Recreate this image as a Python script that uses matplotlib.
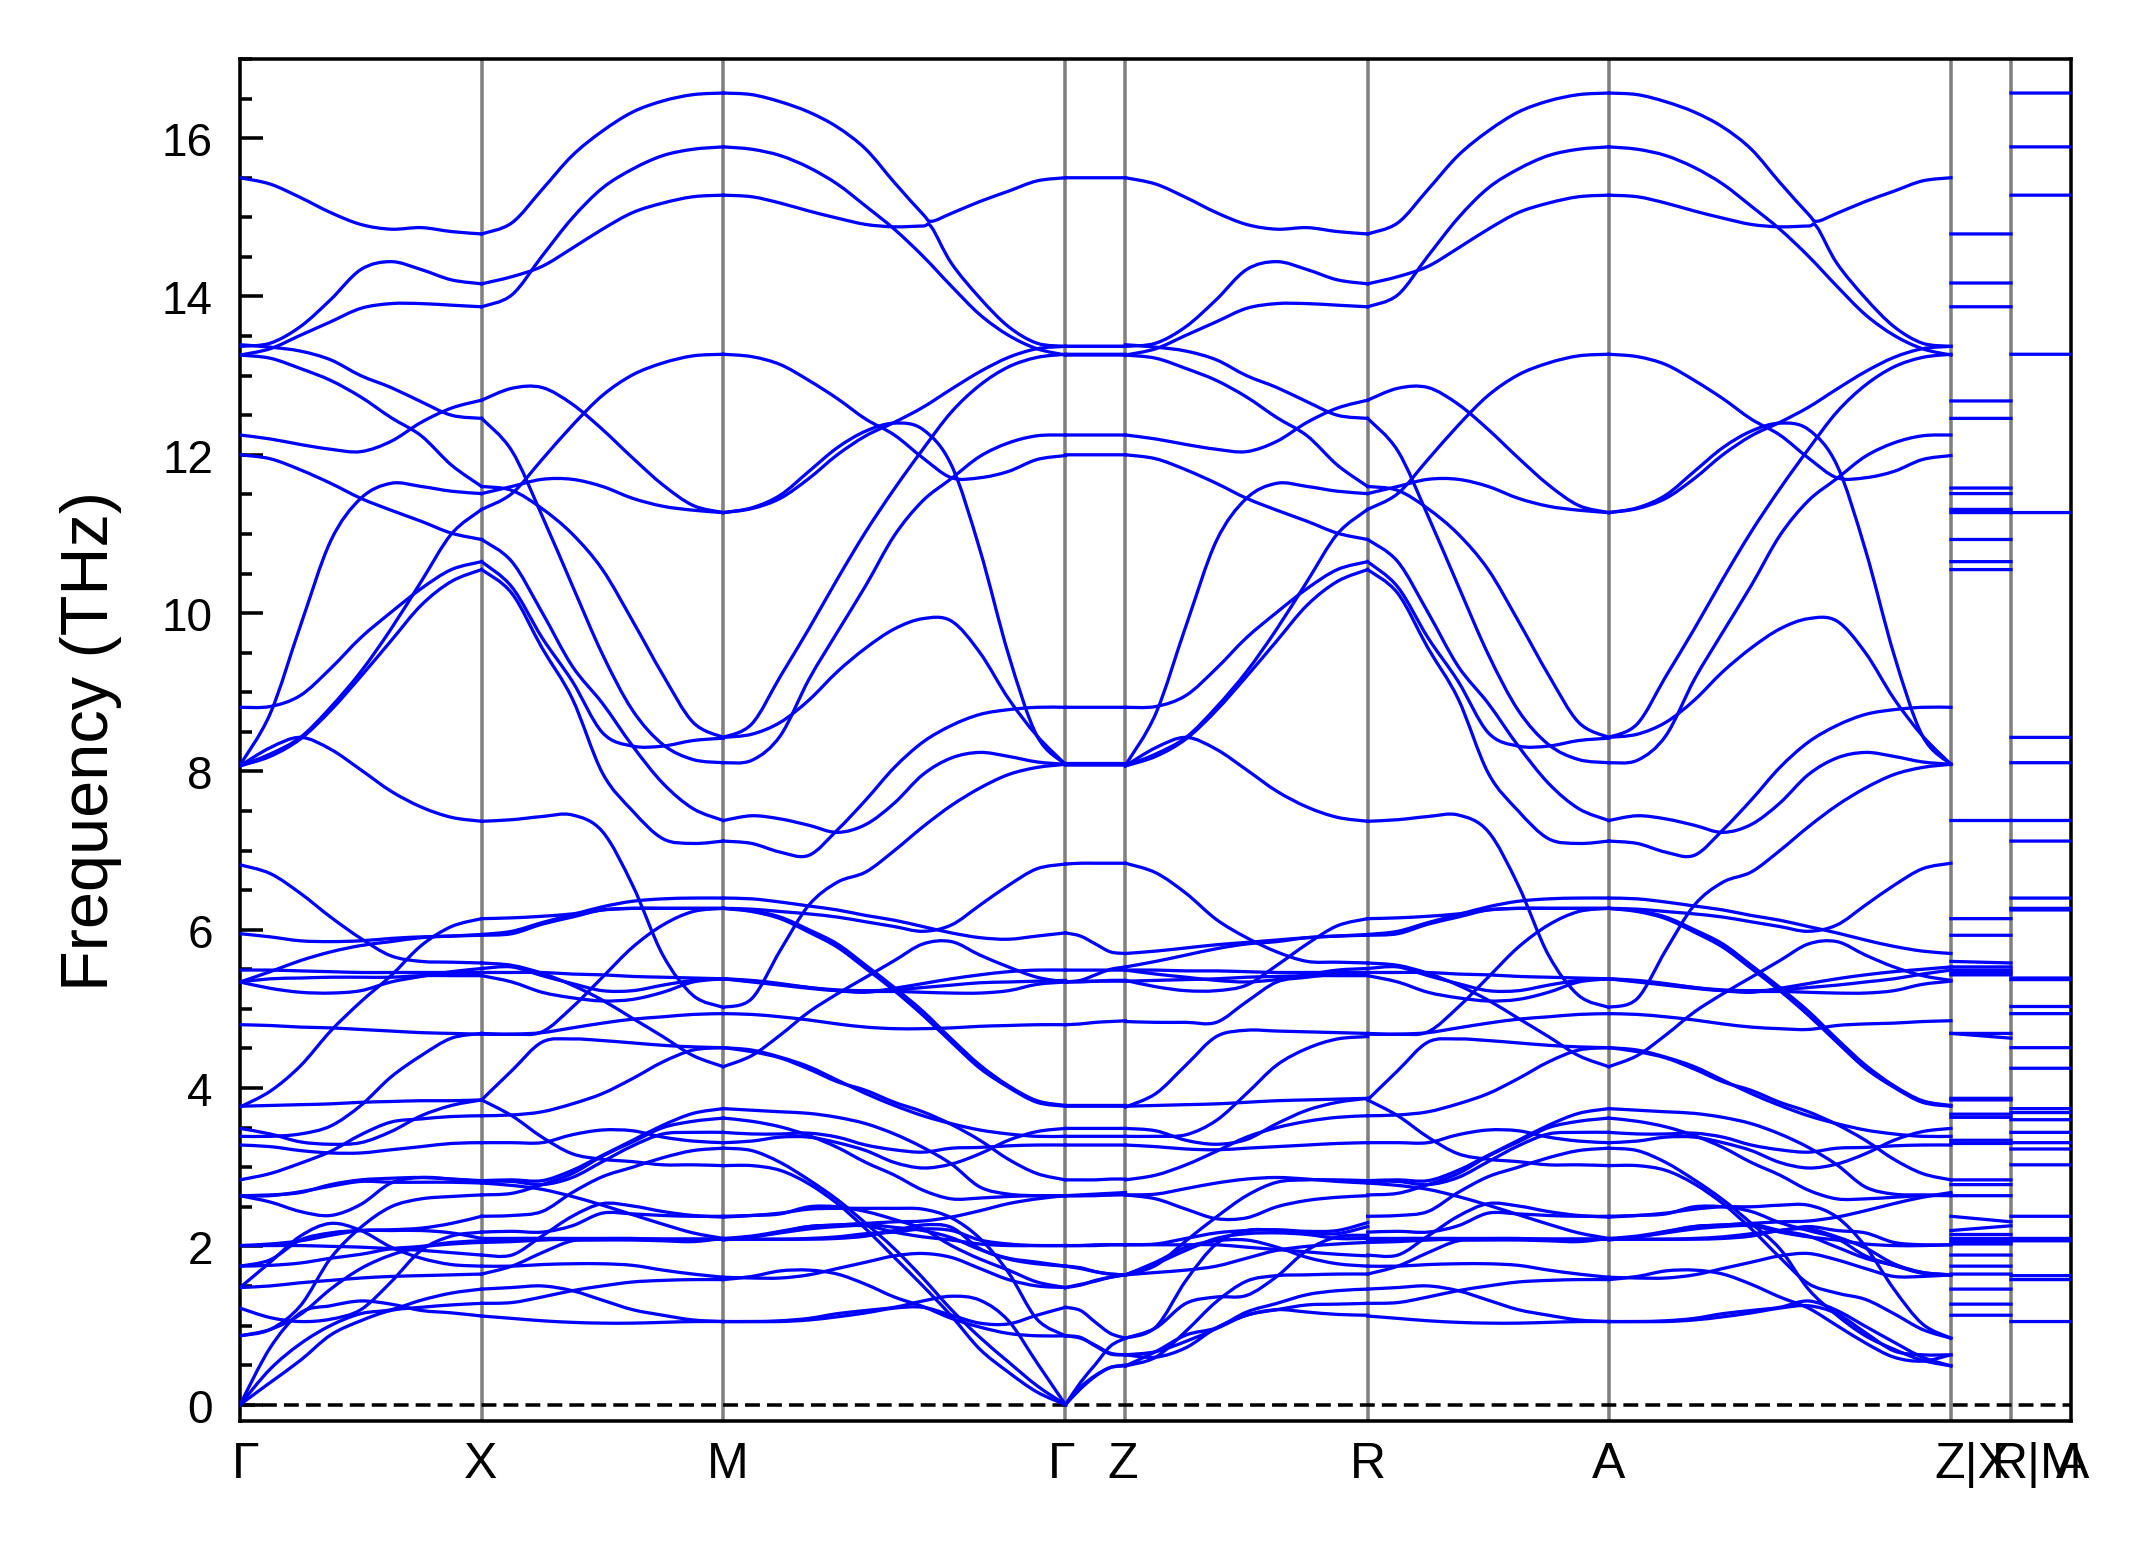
import matplotlib

matplotlib.use("Agg")
import matplotlib.pyplot as plt
import numpy as np
from matplotlib.patches import PathPatch
from matplotlib.path import Path
from matplotlib.ticker import MultipleLocator
from matplotlib.transforms import ScaledTranslation

plt.rcParams["font.family"] = ["Liberation Sans", "DejaVu Sans"]

TICK_LABELS = ["Γ", "X", "M", "Γ", "Z", "R", "A", "Z|X", "R|M", "A"]
LABEL_SHIFTS = [6, -1, 4, -4, -3, 0, 0, 22, 26, 2]
SEGMENTS = [241.5, 241.5, 342.0, 60.0, 242.0, 241.0, 342.0, 60.0, 60.0]
KINK_FRACTION = 0.608

# upper branches, the same on Gamma-X and Z-R
HIGH_GX = [
    [15.5, 15.42, 15.25, 15.06, 14.91, 14.85, 14.87, 14.82, 14.79],
    [13.26, 13.34, 13.51, 13.68, 13.85, 13.91, 13.91, 13.89, 13.87],
    [13.37, 13.41, 13.62, 13.96, 14.34, 14.44, 14.34, 14.21, 14.16],
    [13.26, 13.22, 13.09, 12.94, 12.73, 12.47, 12.24, 11.87, 11.6],
    [13.39, 13.36, 13.31, 13.2, 13.0, 12.85, 12.67, 12.5, 12.46],
    [12.25, 12.2, 12.13, 12.07, 12.04, 12.17, 12.41, 12.59, 12.69],
    [12.0, 11.95, 11.81, 11.64, 11.45, 11.3, 11.16, 11.01, 10.93],
    [8.81, 8.82, 8.96, 9.3, 9.69, 10.01, 10.31, 10.55, 10.65],
    [8.07, 8.19, 8.41, 8.77, 9.2, 9.65, 10.1, 10.4, 10.55],
    [8.07, 8.22, 8.43, 8.81, 9.26, 9.8, 10.4, 11.0, 11.31],
    [8.08, 8.73, 9.84, 10.91, 11.45, 11.64, 11.6, 11.54, 11.51],
    [8.07, 8.3, 8.43, 8.28, 8.02, 7.75, 7.55, 7.42, 7.37],
]

HIGH_XM = [
    [14.79, 14.93, 15.35, 15.78, 16.09, 16.33, 16.47, 16.55, 16.57],
    [13.87, 14.02, 14.51, 14.99, 15.37, 15.61, 15.78, 15.86, 15.89],
    [14.16, 14.25, 14.38, 14.61, 14.85, 15.06, 15.18, 15.26, 15.28],
    [11.6, 11.55, 11.32, 11.0, 10.55, 9.9, 9.22, 8.62, 8.43],
    [12.46, 12.05, 11.23, 10.35, 9.48, 8.77, 8.34, 8.15, 8.11],
    [12.69, 12.84, 12.85, 12.64, 12.32, 11.96, 11.62, 11.36, 11.27],
    [10.93, 10.65, 10.01, 9.33, 8.86, 8.32, 7.85, 7.53, 7.38],
    [10.65, 10.33, 9.69, 9.14, 8.49, 8.32, 8.32, 8.39, 8.42],
    [10.55, 10.25, 9.56, 8.92, 7.98, 7.5, 7.15, 7.09, 7.12],
    [11.31, 11.51, 11.94, 12.37, 12.75, 13.01, 13.16, 13.25, 13.27],
    [11.51, 11.6, 11.69, 11.69, 11.6, 11.45, 11.35, 11.3, 11.27],
    [7.37, 7.39, 7.43, 7.45, 7.24, 6.56, 5.68, 5.17, 5.02],
]

# the first two rows carry one more point, at the kink near 0.6 of the way
HIGH_MG = [
    [16.57, 16.55, 16.46, 16.33, 16.14, 15.86, 15.44, 15.04, 14.95, 15.05, 15.2, 15.33, 15.46, 15.5],
    [15.28, 15.26, 15.18, 15.08, 14.99, 14.91, 14.88, 14.89, 14.88, 14.42, 13.98, 13.62, 13.41, 13.37],
    [15.89, 15.86, 15.78, 15.63, 15.42, 15.14, 14.85, 14.51, 14.13, 13.77, 13.51, 13.34, 13.26],
    [13.27, 13.24, 13.14, 12.94, 12.71, 12.45, 12.25, 11.96, 11.71, 11.71, 11.79, 11.94, 11.99],
    [11.27, 11.33, 11.49, 11.79, 12.09, 12.3, 12.4, 12.32, 11.87, 10.8, 9.48, 8.45, 8.09],
    [11.27, 11.32, 11.45, 11.7, 12.0, 12.24, 12.41, 12.6, 12.83, 13.05, 13.23, 13.34, 13.37],
    [8.43, 8.6, 9.2, 9.8, 10.43, 11.03, 11.57, 12.07, 12.54, 12.88, 13.11, 13.23, 13.27],
    [8.11, 8.14, 8.45, 9.16, 9.76, 10.35, 10.98, 11.42, 11.7, 11.98, 12.15, 12.24, 12.25],
    [8.43, 8.47, 8.62, 8.9, 9.26, 9.56, 9.8, 9.93, 9.9, 9.5, 8.92, 8.45, 8.09],
    [7.38, 7.44, 7.4, 7.32, 7.23, 7.33, 7.6, 7.96, 8.17, 8.24, 8.19, 8.12, 8.09],
    [7.12, 7.09, 6.98, 6.94, 7.26, 7.64, 8.05, 8.37, 8.58, 8.72, 8.78, 8.81, 8.81],
    [5.02, 5.13, 5.74, 6.31, 6.6, 6.73, 7.0, 7.3, 7.57, 7.79, 7.96, 8.05, 8.09],
]

LOW_GX = [
    [6.82, 6.71, 6.46, 6.16, 5.89, 5.67, 5.6, 5.59, 5.58],
    [5.95, 5.91, 5.86, 5.85, 5.86, 5.89, 5.91, 5.92, 5.93],
    [5.49, 5.49, 5.48, 5.47, 5.46, 5.46, 5.46, 5.46, 5.46],
    [5.34, 5.47, 5.61, 5.72, 5.8, 5.85, 5.9, 5.92, 5.94],
    [5.34, 5.26, 5.21, 5.2, 5.23, 5.34, 5.41, 5.47, 5.51],
    [5.34, 5.38, 5.39, 5.4, 5.4, 5.4, 5.42, 5.42, 5.42],
    [4.8, 4.79, 4.77, 4.76, 4.74, 4.72, 4.7, 4.69, 4.68],
    [3.76, 3.96, 4.28, 4.72, 5.09, 5.42, 5.8, 6.04, 6.14],
    [3.39, 3.39, 3.42, 3.52, 3.78, 4.14, 4.41, 4.63, 4.69],
    [3.77, 3.78, 3.79, 3.8, 3.82, 3.83, 3.84, 3.84, 3.85],
    [3.49, 3.42, 3.32, 3.29, 3.31, 3.45, 3.65, 3.78, 3.85],
    [3.28, 3.26, 3.21, 3.18, 3.18, 3.22, 3.26, 3.3, 3.31],
    [2.84, 2.92, 3.05, 3.2, 3.41, 3.57, 3.61, 3.64, 3.65],
    [2.64, 2.64, 2.69, 2.76, 2.82, 2.81, 2.81, 2.81, 2.8],
    [2.64, 2.65, 2.68, 2.78, 2.84, 2.86, 2.87, 2.85, 2.83],
    [2.64, 2.56, 2.44, 2.39, 2.53, 2.8, 2.87, 2.85, 2.82],
    [2.01, 2.03, 2.07, 2.14, 2.2, 2.21, 2.23, 2.29, 2.38],
    [2.01, 2.01, 2.01, 2.0, 1.99, 1.97, 1.95, 1.92, 1.89],
    [1.48, 1.8, 2.13, 2.29, 2.2, 1.99, 1.85, 1.77, 1.75],
    [1.75, 1.83, 2.08, 2.17, 2.2, 2.2, 2.2, 2.17, 2.1],
    [1.75, 1.76, 1.79, 1.85, 1.9, 1.97, 2.0, 2.05, 2.07],
    [1.48, 1.5, 1.54, 1.57, 1.6, 1.62, 1.63, 1.64, 1.65],
    [0.87, 0.95, 1.25, 1.85, 2.24, 2.5, 2.6, 2.63, 2.65],
    [0.0, 0.72, 1.16, 1.25, 1.31, 1.27, 1.19, 1.16, 1.12],
    [1.22, 1.1, 1.05, 1.08, 1.2, 1.55, 1.95, 2.13, 2.18],
    [0.87, 0.95, 1.14, 1.46, 1.72, 1.89, 1.99, 2.03, 2.05],
    [0.0, 0.45, 0.77, 1.0, 1.15, 1.2, 1.32, 1.41, 1.46],
    [0.0, 0.28, 0.56, 0.88, 1.06, 1.19, 1.23, 1.26, 1.28],
]

LOW_XM = [
    [5.58, 5.55, 5.45, 5.3, 5.11, 4.88, 4.65, 4.41, 4.27],
    [5.93, 5.95, 6.07, 6.16, 6.25, 6.27, 6.27, 6.27, 6.27],
    [5.46, 5.46, 5.46, 5.44, 5.43, 5.41, 5.4, 5.39, 5.38],
    [5.94, 5.98, 6.09, 6.19, 6.29, 6.36, 6.39, 6.4, 6.4],
    [5.51, 5.53, 5.42, 5.32, 5.23, 5.23, 5.3, 5.36, 5.38],
    [5.42, 5.34, 5.21, 5.14, 5.1, 5.12, 5.21, 5.34, 5.38],
    [4.68, 4.68, 4.7, 4.76, 4.82, 4.87, 4.9, 4.93, 4.94],
    [6.14, 6.15, 6.17, 6.2, 6.25, 6.27, 6.27, 6.27, 6.27],
    [4.69, 4.68, 4.71, 5.02, 5.4, 5.78, 6.06, 6.23, 6.27],
    [3.85, 4.22, 4.58, 4.62, 4.6, 4.57, 4.54, 4.52, 4.51],
    [3.85, 3.65, 3.38, 3.17, 3.1, 3.07, 3.03, 3.03, 3.02],
    [3.31, 3.31, 3.31, 3.41, 3.47, 3.46, 3.38, 3.33, 3.31],
    [3.65, 3.66, 3.7, 3.8, 3.93, 4.12, 4.33, 4.48, 4.51],
    [2.8, 2.77, 2.72, 2.63, 2.52, 2.4, 2.28, 2.17, 2.1],
    [2.83, 2.84, 2.83, 2.96, 3.15, 3.34, 3.53, 3.68, 3.74],
    [2.82, 2.82, 2.78, 2.87, 3.07, 3.27, 3.42, 3.44, 3.44],
    [2.38, 2.39, 2.44, 2.68, 2.88, 3.0, 3.12, 3.21, 3.24],
    [1.89, 1.89, 2.13, 2.38, 2.54, 2.51, 2.44, 2.39, 2.37],
    [1.75, 1.75, 1.77, 1.78, 1.78, 1.76, 1.7, 1.65, 1.61],
    [2.1, 2.1, 2.1, 2.08, 2.08, 2.08, 2.07, 2.06, 2.1],
    [2.07, 2.09, 2.1, 2.1, 2.1, 2.1, 2.09, 2.09, 2.09],
    [1.65, 1.75, 1.92, 2.07, 2.09, 2.09, 2.09, 2.09, 2.09],
    [2.65, 2.67, 2.78, 2.92, 3.14, 3.32, 3.5, 3.58, 3.62],
    [1.12, 1.09, 1.06, 1.04, 1.03, 1.03, 1.04, 1.05, 1.05],
    [2.18, 2.19, 2.18, 2.26, 2.42, 2.41, 2.39, 2.38, 2.38],
    [2.05, 2.06, 2.08, 2.09, 2.09, 2.09, 2.09, 2.09, 2.09],
    [1.46, 1.48, 1.5, 1.44, 1.32, 1.2, 1.13, 1.07, 1.05],
    [1.28, 1.29, 1.36, 1.44, 1.5, 1.55, 1.57, 1.58, 1.58],
]

LOW_MG = [
    [4.27, 4.41, 4.67, 4.96, 5.19, 5.4, 5.61, 5.82, 5.85, 5.68, 5.53, 5.4, 5.34],
    [6.27, 6.26, 6.23, 6.2, 6.16, 6.1, 6.04, 5.98, 6.06, 6.31, 6.56, 6.77, 6.83],
    [6.4, 6.39, 6.35, 6.3, 6.25, 6.18, 6.12, 6.04, 5.96, 5.9, 5.88, 5.92, 5.96],
    [5.38, 5.36, 5.32, 5.27, 5.23, 5.21, 5.26, 5.32, 5.38, 5.43, 5.47, 5.49, 5.49],
    [5.38, 5.35, 5.31, 5.27, 5.24, 5.23, 5.24, 5.27, 5.3, 5.33, 5.34, 5.35, 5.36],
    [5.38, 5.34, 5.3, 5.26, 5.23, 5.22, 5.22, 5.21, 5.2, 5.2, 5.23, 5.31, 5.34],
    [4.94, 4.93, 4.9, 4.86, 4.81, 4.77, 4.75, 4.75, 4.76, 4.78, 4.79, 4.8, 4.8],
    [6.27, 6.23, 6.14, 5.97, 5.78, 5.51, 5.23, 4.92, 4.58, 4.25, 4.01, 3.82, 3.77],
    [6.27, 6.24, 6.16, 6.0, 5.82, 5.55, 5.27, 4.97, 4.62, 4.29, 4.03, 3.84, 3.78],
    [4.51, 4.48, 4.39, 4.27, 4.1, 3.93, 3.78, 3.65, 3.55, 3.47, 3.42, 3.39, 3.39],
    [4.51, 4.46, 4.38, 4.24, 4.08, 3.97, 3.82, 3.7, 3.54, 3.34, 3.1, 2.92, 2.84],
    [3.31, 3.33, 3.38, 3.38, 3.31, 3.21, 3.06, 2.99, 3.04, 3.17, 3.34, 3.45, 3.49],
    [3.44, 3.42, 3.42, 3.43, 3.38, 3.28, 3.22, 3.19, 3.24, 3.25, 3.27, 3.28, 3.28],
    [3.74, 3.72, 3.7, 3.68, 3.63, 3.55, 3.42, 3.25, 3.04, 2.75, 2.66, 2.64, 2.64],
    [3.62, 3.58, 3.51, 3.4, 3.25, 3.06, 2.9, 2.71, 2.6, 2.61, 2.63, 2.64, 2.64],
    [2.1, 2.13, 2.19, 2.25, 2.27, 2.29, 2.31, 2.32, 2.37, 2.45, 2.54, 2.6, 2.64],
    [3.02, 3.02, 2.96, 2.79, 2.54, 2.22, 1.86, 1.5, 1.12, 0.7, 0.41, 0.16, 0.0],
    [3.24, 3.21, 3.06, 2.84, 2.59, 2.29, 1.97, 1.6, 1.2, 0.85, 0.54, 0.24, 0.0],
    [1.05, 1.05, 1.06, 1.09, 1.15, 1.19, 1.23, 1.31, 1.37, 1.32, 1.06, 0.53, 0.0],
    [1.05, 1.05, 1.05, 1.07, 1.11, 1.16, 1.22, 1.23, 1.13, 1.03, 1.02, 1.13, 1.23],
    [1.58, 1.62, 1.69, 1.7, 1.65, 1.52, 1.36, 1.24, 1.09, 0.98, 0.9, 0.87, 0.87],
    [2.37, 2.39, 2.42, 2.47, 2.48, 2.48, 2.48, 2.47, 2.36, 2.1, 1.67, 1.08, 0.87],
    [1.61, 1.6, 1.6, 1.64, 1.72, 1.8, 1.88, 1.91, 1.86, 1.72, 1.58, 1.5, 1.48],
    [2.38, 2.39, 2.41, 2.5, 2.5, 2.44, 2.34, 2.22, 2.01, 1.84, 1.7, 1.55, 1.48],
    [2.09, 2.12, 2.18, 2.25, 2.27, 2.28, 2.24, 2.2, 2.11, 1.96, 1.85, 1.8, 1.75],
    [2.09, 2.09, 2.09, 2.09, 2.1, 2.13, 2.2, 2.27, 2.24, 1.97, 1.84, 1.78, 1.75],
    [2.09, 2.09, 2.09, 2.1, 2.12, 2.16, 2.18, 2.22, 2.2, 2.08, 2.03, 2.01, 2.01],
    [2.08, 2.12, 2.17, 2.22, 2.25, 2.26, 2.18, 2.12, 2.08, 2.03, 2.01, 2.01, 2.01],
]

GZ = [
    [15.5, 15.5, 15.5, 15.5, 15.5],
    [13.37, 13.37, 13.37, 13.37, 13.37],
    [13.37, 13.37, 13.37, 13.37, 13.37],
    [13.27, 13.27, 13.27, 13.27, 13.27],
    [13.26, 13.26, 13.26, 13.26, 13.26],
    [12.25, 12.25, 12.25, 12.25, 12.25],
    [12.0, 12.0, 12.0, 12.0, 12.0],
    [8.81, 8.81, 8.81, 8.81, 8.81],
    [8.09, 8.09, 8.09, 8.09, 8.09],
    [8.08, 8.08, 8.08, 8.08, 8.08],
    [8.1, 8.1, 8.1, 8.1, 8.1],
    [6.83, 6.84, 6.84, 6.84, 6.84],
    [5.96, 5.92, 5.82, 5.72, 5.7],
    [5.49, 5.49, 5.49, 5.49, 5.49],
    [5.34, 5.36, 5.43, 5.5, 5.53],
    [5.34, 5.35, 5.35, 5.36, 5.36],
    [5.34, 5.34, 5.35, 5.35, 5.35],
    [4.8, 4.81, 4.83, 4.84, 4.85],
    [3.77, 3.77, 3.77, 3.77, 3.77],
    [3.78, 3.78, 3.78, 3.78, 3.78],
    [3.49, 3.49, 3.49, 3.49, 3.49],
    [3.39, 3.39, 3.39, 3.39, 3.39],
    [3.28, 3.28, 3.28, 3.28, 3.28],
    [2.84, 2.84, 2.84, 2.85, 2.85],
    [2.64, 2.64, 2.64, 2.65, 2.65],
    [2.64, 2.64, 2.65, 2.65, 2.66],
    [2.64, 2.65, 2.66, 2.67, 2.68],
    [2.01, 2.01, 2.01, 2.02, 2.02],
    [2.01, 2.01, 2.02, 2.02, 2.02],
    [1.75, 1.73, 1.68, 1.65, 1.64],
    [1.75, 1.72, 1.68, 1.65, 1.64],
    [1.48, 1.52, 1.56, 1.61, 1.64],
    [1.48, 1.51, 1.57, 1.61, 1.64],
    [1.23, 1.19, 1.04, 0.9, 0.84],
    [0.87, 0.85, 0.74, 0.64, 0.63],
    [0.87, 0.84, 0.75, 0.65, 0.63],
    [0.0, 0.28, 0.51, 0.74, 0.84],
    [0.0, 0.22, 0.37, 0.47, 0.49],
    [0.0, 0.2, 0.36, 0.47, 0.5],
]

LOW_ZR = [
    [6.84, 6.72, 6.46, 6.13, 5.9, 5.72, 5.6, 5.59, 5.58],
    [5.7, 5.73, 5.77, 5.81, 5.84, 5.87, 5.9, 5.92, 5.93],
    [5.53, 5.6, 5.68, 5.76, 5.82, 5.85, 5.9, 5.92, 5.94],
    [5.36, 5.28, 5.23, 5.23, 5.3, 5.55, 5.82, 6.05, 6.14],
    [5.49, 5.49, 5.48, 5.48, 5.47, 5.46, 5.46, 5.46, 5.46],
    [5.49, 5.44, 5.4, 5.36, 5.34, 5.37, 5.43, 5.49, 5.51],
    [5.35, 5.36, 5.37, 5.38, 5.4, 5.41, 5.42, 5.42, 5.42],
    [4.84, 4.83, 4.83, 4.83, 5.09, 5.34, 5.4, 5.44, 5.46],
    [3.76, 3.93, 4.29, 4.65, 4.73, 4.72, 4.71, 4.7, 4.69],
    [3.77, 3.78, 3.79, 3.8, 3.82, 3.84, 3.85, 3.86, 3.87],
    [3.49, 3.46, 3.34, 3.29, 3.35, 3.55, 3.72, 3.82, 3.87],
    [3.39, 3.39, 3.41, 3.59, 3.93, 4.29, 4.5, 4.62, 4.65],
    [3.28, 3.26, 3.23, 3.22, 3.24, 3.26, 3.28, 3.3, 3.31],
    [2.84, 2.9, 3.03, 3.2, 3.38, 3.5, 3.58, 3.63, 3.65],
    [2.65, 2.66, 2.73, 2.8, 2.85, 2.87, 2.85, 2.82, 2.8],
    [2.65, 2.6, 2.47, 2.35, 2.36, 2.5, 2.58, 2.62, 2.64],
    [2.02, 2.03, 2.1, 2.17, 2.2, 2.21, 2.19, 2.2, 2.3],
    [2.02, 2.02, 2.02, 2.02, 1.99, 1.96, 1.93, 1.9, 1.88],
    [1.64, 1.76, 2.07, 2.37, 2.64, 2.81, 2.84, 2.84, 2.83],
    [1.64, 1.78, 1.95, 2.1, 2.16, 2.17, 2.15, 2.1, 2.1],
    [1.64, 1.8, 1.99, 2.07, 2.08, 1.99, 1.86, 1.78, 1.75],
    [1.64, 1.67, 1.7, 1.75, 1.85, 1.95, 2.0, 2.03, 2.05],
    [0.84, 0.98, 1.57, 2.03, 2.2, 2.2, 2.17, 2.16, 2.25],
    [0.84, 0.97, 1.28, 1.36, 1.38, 1.62, 1.95, 2.12, 2.14],
    [0.63, 0.6, 0.72, 0.97, 1.13, 1.2, 1.17, 1.14, 1.13],
    [0.63, 0.67, 0.8, 0.96, 1.13, 1.2, 1.26, 1.27, 1.28],
    [0.49, 0.6, 0.93, 1.3, 1.56, 1.63, 1.64, 1.65, 1.65],
    [0.49, 0.67, 0.88, 0.97, 1.17, 1.28, 1.39, 1.44, 1.46],
]

LOW_AZ = [
    [4.27, 4.41, 4.67, 4.96, 5.19, 5.4, 5.61, 5.82, 5.85, 5.68, 5.53, 5.42, 5.36],
    [6.27, 6.26, 6.23, 6.2, 6.16, 6.1, 6.04, 5.98, 6.06, 6.31, 6.56, 6.77, 6.84],
    [6.4, 6.39, 6.35, 6.3, 6.25, 6.18, 6.12, 6.04, 5.96, 5.87, 5.79, 5.73, 5.7],
    [5.38, 5.36, 5.32, 5.27, 5.23, 5.21, 5.26, 5.32, 5.38, 5.43, 5.47, 5.5, 5.53],
    [5.38, 5.35, 5.31, 5.27, 5.24, 5.23, 5.24, 5.27, 5.3, 5.34, 5.38, 5.44, 5.49],
    [5.38, 5.34, 5.3, 5.26, 5.23, 5.22, 5.22, 5.21, 5.2, 5.2, 5.23, 5.31, 5.35],
    [4.94, 4.93, 4.9, 4.86, 4.81, 4.77, 4.75, 4.74, 4.79, 4.81, 4.82, 4.84, 4.85],
    [6.27, 6.23, 6.14, 5.97, 5.78, 5.51, 5.23, 4.92, 4.58, 4.25, 4.01, 3.82, 3.77],
    [6.27, 6.24, 6.16, 6.0, 5.82, 5.55, 5.27, 4.97, 4.62, 4.29, 4.03, 3.84, 3.78],
    [4.51, 4.48, 4.39, 4.27, 4.1, 3.93, 3.78, 3.65, 3.55, 3.47, 3.42, 3.39, 3.39],
    [4.51, 4.46, 4.38, 4.24, 4.08, 3.97, 3.82, 3.7, 3.54, 3.34, 3.1, 2.92, 2.84],
    [3.31, 3.33, 3.38, 3.38, 3.31, 3.21, 3.06, 2.99, 3.04, 3.17, 3.34, 3.45, 3.49],
    [3.44, 3.42, 3.42, 3.43, 3.38, 3.28, 3.22, 3.19, 3.24, 3.25, 3.27, 3.28, 3.28],
    [3.74, 3.72, 3.7, 3.68, 3.63, 3.55, 3.42, 3.25, 3.03, 2.75, 2.66, 2.65, 2.65],
    [3.62, 3.58, 3.51, 3.4, 3.25, 3.06, 2.9, 2.71, 2.6, 2.6, 2.62, 2.64, 2.64],
    [2.1, 2.13, 2.19, 2.25, 2.27, 2.29, 2.31, 2.32, 2.37, 2.45, 2.54, 2.62, 2.68],
    [3.02, 3.02, 2.96, 2.79, 2.54, 2.22, 1.86, 1.53, 1.41, 1.33, 1.15, 0.95, 0.84],
    [3.24, 3.21, 3.06, 2.84, 2.59, 2.29, 1.97, 1.46, 1.13, 0.87, 0.7, 0.56, 0.49],
    [1.05, 1.05, 1.06, 1.09, 1.15, 1.19, 1.23, 1.31, 1.19, 0.99, 0.79, 0.6, 0.49],
    [1.05, 1.05, 1.05, 1.07, 1.11, 1.16, 1.22, 1.25, 1.15, 0.91, 0.68, 0.63, 0.63],
    [1.58, 1.62, 1.69, 1.7, 1.65, 1.52, 1.36, 1.22, 1.0, 0.78, 0.6, 0.55, 0.63],
    [2.37, 2.39, 2.42, 2.47, 2.5, 2.5, 2.52, 2.52, 2.37, 2.0, 1.46, 1.02, 0.84],
    [1.61, 1.6, 1.6, 1.64, 1.72, 1.8, 1.88, 1.91, 1.83, 1.72, 1.62, 1.62, 1.64],
    [2.38, 2.39, 2.41, 2.5, 2.5, 2.44, 2.3, 2.2, 2.1, 1.88, 1.76, 1.66, 1.64],
    [2.09, 2.12, 2.18, 2.25, 2.27, 2.28, 2.2, 2.13, 1.99, 1.85, 1.76, 1.67, 1.64],
    [2.09, 2.09, 2.09, 2.09, 2.1, 2.13, 2.2, 2.22, 2.12, 1.98, 1.78, 1.67, 1.64],
    [2.09, 2.09, 2.09, 2.1, 2.12, 2.16, 2.2, 2.25, 2.2, 2.17, 2.05, 2.02, 2.02],
    [2.08, 2.12, 2.17, 2.22, 2.25, 2.26, 2.18, 2.12, 2.08, 2.03, 2.01, 2.01, 2.02],
]

# start and end of the almost flat bands on the last two short segments
XR = [
    [14.79, 14.79], [14.17, 14.17], [13.87, 13.87], [12.68, 12.68], [12.46, 12.46],
    [11.58, 11.58], [11.51, 11.51], [11.31, 11.31], [11.27, 11.27], [10.93, 10.93],
    [10.65, 10.65], [10.55, 10.55], [7.38, 7.38], [6.14, 6.14], [5.93, 5.93],
    [5.6, 5.58], [5.53, 5.53], [5.49, 5.49], [5.46, 5.46], [5.43, 5.43],
    [4.69, 4.69], [4.69, 4.63], [3.87, 3.87], [3.85, 3.85], [3.67, 3.67],
    [3.63, 3.63], [3.34, 3.34], [3.3, 3.3], [2.84, 2.84], [2.78, 2.78],
    [2.64, 2.64], [2.38, 2.31], [2.2, 2.26], [2.15, 2.15], [2.1, 2.1],
    [2.06, 2.06], [2.03, 2.03], [1.89, 1.89], [1.75, 1.75], [1.65, 1.65],
    [1.46, 1.46], [1.27, 1.27], [1.13, 1.13],
]

MA = [
    16.57, 15.89, 15.28, 13.27, 11.27, 8.43, 8.11, 7.38, 7.12, 6.4, 6.27, 6.25, 5.39, 5.37,
    5.03, 4.94, 4.51, 4.25, 3.74, 3.69, 3.6, 3.44, 3.31, 3.23, 3.03, 2.38, 2.1, 2.09,
    2.07, 1.63, 1.58, 1.05,
]

stops = np.concatenate([[0.0], np.cumsum(SEGMENTS)])

fig = plt.figure(figsize=(7.15, 5.1633), dpi=300)
ax = fig.add_axes([240 / 2145, 1 - 1421.5 / 1549, 1831 / 2145, 1361.5 / 1549])


def band_path(x, y):
    # cubic pieces through the read values, so the bands are not drawn as polygons
    points = np.column_stack([x, y])
    before = np.vstack([points[0], points[:-1]])
    after = np.vstack([points[1:], points[-1]])
    slopes = (after - before) / 6
    verts = [points[0]]
    codes = [Path.MOVETO]
    for i in range(len(points) - 1):
        verts += [points[i] + slopes[i], points[i + 1] - slopes[i + 1], points[i + 1]]
        codes += [Path.CURVE4, Path.CURVE4, Path.CURVE4]
    return Path(verts, codes)


def plot_rows(rows, segment):
    start, end = stops[segment], stops[segment + 1]
    for row in rows:
        n = len(row)
        if n == 14:
            fractions = np.sort(np.append(np.linspace(0, 1, 13), KINK_FRACTION))
        else:
            fractions = np.linspace(0, 1, n)
        x = start + fractions * (end - start)
        ax.add_patch(PathPatch(band_path(x, row), fill=False, edgecolor="b", lw=0.78,
                               capstyle="projecting", joinstyle="round", zorder=3))


for stop in stops[1:-1]:
    ax.axvline(stop, color="gray", lw=0.85, zorder=1)

plot_rows(HIGH_GX + LOW_GX, 0)
plot_rows(HIGH_XM + LOW_XM, 1)
plot_rows(HIGH_MG + LOW_MG, 2)
plot_rows(GZ, 3)
plot_rows(HIGH_GX + LOW_ZR, 4)
plot_rows(HIGH_XM + LOW_XM, 5)
plot_rows(HIGH_MG + LOW_AZ, 6)
plot_rows(XR, 7)
plot_rows([[level, level] for level in MA], 8)

ax.axhline(0, color="k", lw=0.85, linestyle=(0, (4.2, 2.0)), zorder=2)

ax.set_xlim(stops[0], stops[-1])
ax.set_ylim(-0.2, 17)
ax.set_xticks(stops)
ax.set_xticklabels(TICK_LABELS)
ax.yaxis.set_major_locator(MultipleLocator(2))
ax.yaxis.set_minor_locator(MultipleLocator(0.5))
ax.tick_params(axis="x", length=0, pad=5, labelsize=12)
ax.tick_params(axis="y", which="major", direction="in", length=5.5, width=0.85, pad=6.5, labelsize=11)
ax.tick_params(axis="y", which="minor", direction="in", length=2.9, width=0.85)
for spine in ax.spines.values():
    spine.set_linewidth(0.85)
ax.set_ylabel("Frequency (THz)", fontsize=16, labelpad=9.5)

# the labels sit a little off their ticks in the original
for label, shift in zip(ax.get_xticklabels(), LABEL_SHIFTS):
    label.set_transform(label.get_transform() + ScaledTranslation(shift / 300, 0, fig.dpi_scale_trans))

fig.savefig("out.png", dpi=300)
